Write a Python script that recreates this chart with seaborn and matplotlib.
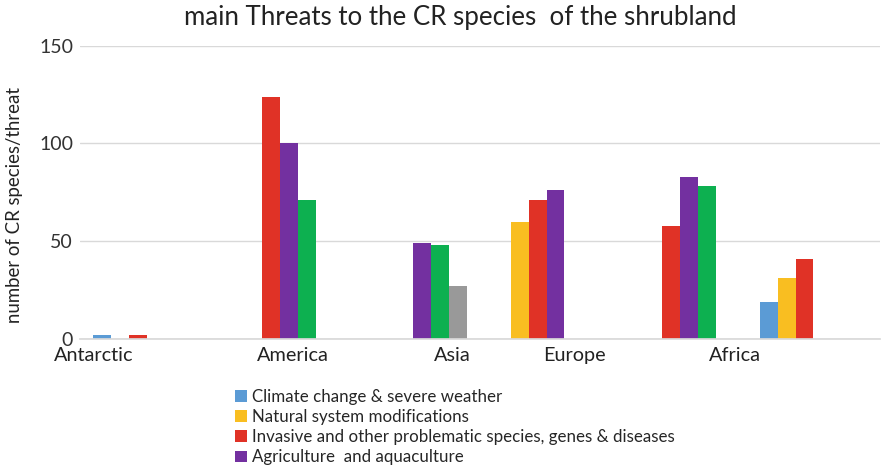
import matplotlib
matplotlib.use("Agg")
import matplotlib.pyplot as plt
import seaborn as sns
import pandas as pd
import numpy as np

# ---- data ----
regions = ["Antarctic", "America", "Asia", "Europe", "Africa", ""]
threats = [
    "Climate change & severe weather",
    "Natural system modifications",
    "Invasive and other problematic species, genes & diseases",
    "Agriculture  and aquaculture",
    "series 5",
    "series 6",
]
climate = [2, np.nan, np.nan, np.nan, np.nan, 19]
natural = [np.nan, np.nan, np.nan, 60, np.nan, 31]
invasive = [2, 124, np.nan, 71, 58, 41]
agriculture = [np.nan, 100, 49, 76, 83, np.nan]
series5 = [np.nan, 71, 48, np.nan, 78, np.nan]
series6 = [np.nan, np.nan, 27, np.nan, np.nan, np.nan]
colors = ["#5B9BD5", "#F9BE21", "#E03226", "#7330A0", "#0DB050", "#999999"]
yticks = [0, 50, 100, 150]
label_texts = ["Antarctic", "America", "Asia", "Europe", "Africa"]
label_pos = [-0.40, 1.10, 2.29, 3.21, 4.41]

rows = []
for name, vals in zip(threats, [climate, natural, invasive, agriculture, series5, series6]):
    for r, v in zip(regions, vals):
        rows.append({"region": r, "threat": name, "value": v})
df = pd.DataFrame(rows)

sns.set_theme(style="white")
plt.rcParams["font.family"] = ["Lato", "DejaVu Sans"]

fig = plt.figure(figsize=(8.82, 4.67), dpi=100)
ax = fig.add_axes([80 / 882, 1 - 339 / 467, 800 / 882, (339 - 45.7) / 467])

sns.barplot(data=df, x="region", y="value", hue="threat", order=regions,
            hue_order=threats, palette=colors, width=0.8, ax=ax,
            saturation=1, edgecolor="none", linewidth=0, legend=True)

ax.set_ylim(0, 150)
ax.set_xlim(-0.5, 5.5)
ax.set_yticks(yticks)
ax.set_yticklabels([str(t) for t in yticks], fontsize=14, color="#333333")
ax.set_xticks(label_pos)
ax.set_xticklabels(label_texts, fontsize=14.3, color="#222222")
ax.tick_params(axis="y", length=0, pad=5)
ax.tick_params(axis="x", length=0, pad=6)
ax.grid(axis="y", color="#D9D9D9", linewidth=1)
ax.set_axisbelow(True)
for s in ["top", "right", "left"]:
    ax.spines[s].set_visible(False)
ax.spines["bottom"].set_color("#D9D9D9")
ax.set_xlabel("")
ax.set_ylabel("number of CR species/threat", fontsize=13.4, color="#222222")
ax.yaxis.set_label_coords(-0.0715, 0.458)

handles, labels = ax.get_legend_handles_labels()
ax.get_legend().remove()
fig.legend(handles[:4], labels[:4], loc="upper left",
           bbox_to_anchor=(228 / 882, 1 - 382 / 467), frameon=False,
           fontsize=12.2, handlelength=0.7, handleheight=0.7,
           handletextpad=0.3, labelspacing=0.25, borderaxespad=0)

fig.text(460 / 882, 1 - 18 / 467, "main Threats to the CR species  of the shrubland",
         ha="center", va="center", fontsize=18.6, color="#222222")

fig.savefig("out.png", dpi=100)
